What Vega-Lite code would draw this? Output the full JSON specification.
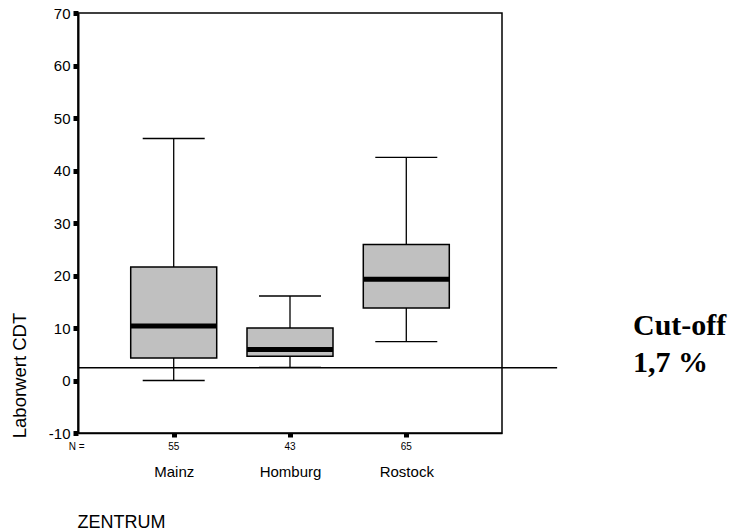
{
  "$schema": "https://vega.github.io/schema/vega-lite/v6.json",
  "width": 424,
  "height": 420,
  "autosize": {"type": "none"},
  "padding": {"left": 78, "top": 13, "right": 232, "bottom": 97},
  "background": "white",
  "config": {
    "font": "Liberation Sans",
    "view": {"stroke": "black", "strokeWidth": 1.5},
    "axis": {"grid": false, "domainColor": "black", "tickColor": "black", "labelColor": "black", "titleColor": "black", "labelFont": "Liberation Sans", "titleFont": "Liberation Sans", "titleFontWeight": "normal"}
  },
  "resolve": {"scale": {"x": "independent"}, "axis": {"x": "independent"}},
  "layer": [
    {
      "data": {"values": [
        {"zentrum": "Mainz", "n": 55, "lower": 0, "q1": 4.3, "median": 10.4, "q3": 21.6, "upper": 46.1},
        {"zentrum": "Homburg", "n": 43, "lower": 2.5, "q1": 4.6, "median": 5.9, "q3": 10.0, "upper": 16.1},
        {"zentrum": "Rostock", "n": 65, "lower": 7.4, "q1": 13.8, "median": 19.3, "q3": 25.9, "upper": 42.5}
      ]},
      "encoding": {
        "x": {
          "field": "zentrum", "type": "nominal", "sort": null,
          "scale": {"type": "point", "padding": 0.823},
          "axis": {"title": "ZENTRUM", "labelAngle": 0, "labelFontSize": 15, "labelPadding": 39, "labelBaseline": "alphabetic", "tickSize": 4, "tickWidth": 5, "domainWidth": 1.5, "titleFontSize": 18, "titleAnchor": "start", "titleAlign": "left", "titleBaseline": "alphabetic", "titleX": -1, "titleY": 94}
        }
      },
      "layer": [
        {
          "mark": {"type": "rule", "color": "black", "strokeWidth": 1.3},
          "encoding": {
            "y": {
              "field": "lower", "type": "quantitative",
              "scale": {"domain": [-10, 70], "nice": false, "zero": false},
              "axis": {"title": "Laborwert CDT", "values": [-10, 0, 10, 20, 30, 40, 50, 60, 70], "labelExpr": "'' + datum.value", "labelFontSize": 15, "labelPadding": 3, "tickSize": 5, "tickWidth": 5, "domainWidth": 2, "titleFontSize": 18.5, "titleAngle": -90, "titleX": -53, "titleY": 362, "titleAlign": "center", "titleBaseline": "alphabetic"}
            },
            "y2": {"field": "upper"}
          }
        },
        {
          "mark": {"type": "tick", "orient": "horizontal", "color": "black", "size": 62, "thickness": 1.4, "opacity": 1},
          "encoding": {"y": {"field": "lower", "type": "quantitative"}}
        },
        {
          "mark": {"type": "tick", "orient": "horizontal", "color": "black", "size": 62, "thickness": 1.4, "opacity": 1},
          "encoding": {"y": {"field": "upper", "type": "quantitative"}}
        },
        {
          "mark": {"type": "bar", "orient": "vertical", "size": 86, "fill": "#c0c0c0", "stroke": "black", "strokeWidth": 1.5, "opacity": 1},
          "encoding": {"y": {"field": "q1", "type": "quantitative"}, "y2": {"field": "q3"}}
        },
        {
          "mark": {"type": "tick", "orient": "horizontal", "color": "black", "size": 86, "thickness": 5, "opacity": 1},
          "encoding": {"y": {"field": "median", "type": "quantitative"}}
        },
        {
          "mark": {"type": "text", "fontSize": 10, "baseline": "alphabetic", "color": "black"},
          "encoding": {"y": {"datum": -13.2, "type": "quantitative"}, "text": {"field": "n", "type": "nominal"}}
        }
      ]
    },
    {
      "data": {"values": [{}]},
      "layer": [
        {
          "mark": {"type": "rule", "color": "black", "strokeWidth": 1.5},
          "encoding": {
            "x": {"datum": 0, "type": "quantitative", "scale": {"domain": [0, 1], "nice": false, "zero": false}, "axis": null},
            "x2": {"datum": 1.13},
            "y": {"datum": 2.44, "type": "quantitative"}
          }
        },
        {
          "mark": {"type": "text", "text": "N =", "fontSize": 10, "baseline": "alphabetic", "align": "center", "color": "black"},
          "encoding": {
            "x": {"datum": -0.003, "type": "quantitative"},
            "y": {"datum": -13.2, "type": "quantitative"}
          }
        },
        {
          "mark": {"type": "text", "text": "Cut-off", "font": "Liberation Serif", "fontWeight": "bold", "fontSize": 30, "align": "left", "baseline": "alphabetic", "color": "black"},
          "encoding": {
            "x": {"datum": 1.309, "type": "quantitative"},
            "y": {"datum": 8.67, "type": "quantitative"}
          }
        },
        {
          "mark": {"type": "text", "text": "1,7 %", "font": "Liberation Serif", "fontWeight": "bold", "fontSize": 30, "align": "left", "baseline": "alphabetic", "color": "black"},
          "encoding": {
            "x": {"datum": 1.309, "type": "quantitative"},
            "y": {"datum": 1.62, "type": "quantitative"}
          }
        }
      ]
    }
  ]
}
